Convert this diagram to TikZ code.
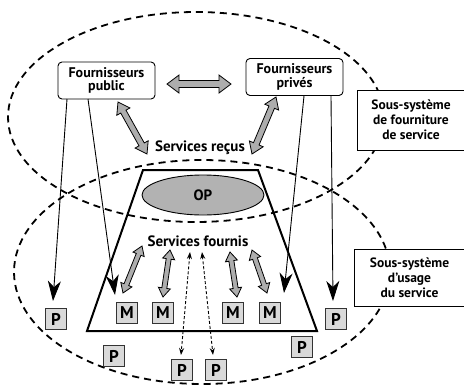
\documentclass[tikz,border=0pt]{standalone}
\usepackage{fontspec}
\setmainfont{PT Sans}
\usetikzlibrary{calc,arrows.meta,shapes.geometric}
\newcommand{\fatarrow}[5]{%
 \draw[fat] (#1) -- ($($(#1)!#5!(#2)$)!#3!90:(#2)$) -- ($($(#1)!#5!(#2)$)!#4!90:(#2)$)
 -- ($($(#2)!#5!(#1)$)!#4!-90:(#1)$) -- ($($(#2)!#5!(#1)$)!#3!-90:(#1)$) -- (#2)
 -- ($($(#2)!#5!(#1)$)!#3!90:(#1)$) -- ($($(#2)!#5!(#1)$)!#4!90:(#1)$)
 -- ($($(#1)!#5!(#2)$)!#4!-90:(#2)$) -- ($($(#1)!#5!(#2)$)!#3!-90:(#2)$) -- cycle;}
\begin{document}
\begin{tikzpicture}[x=1pt,y=-1pt,
  font=\bfseries\fontsize{14}{13.5}\selectfont,
  ell/.style={line width=1.8pt, dash pattern=on 7pt off 5pt},
  fbox/.style={draw, rounded corners=4pt, line width=0.9pt, align=center, inner sep=0pt, minimum width=97pt, minimum height=37pt, fill=white},
  sbox/.style={draw, line width=0.9pt, fill=white, align=center, inner sep=0pt, font=\bfseries\fontsize{13.5}{15}\selectfont},
  lbl/.style={inner sep=0pt, font=\bfseries\fontsize{15}{15}\selectfont},
  pm/.style={draw=black!80, line width=1.1pt, fill=black!15, minimum size=21pt, inner sep=0pt, font=\bfseries\fontsize{17}{17}\selectfont},
  thinarr/.style={line width=0.9pt, -{Stealth[length=20pt,width=13pt,inset=6pt]}},
  dasharr/.style={line width=0.9pt, dash pattern=on 3pt off 2pt, {Stealth[length=7pt,width=5pt]}-{Stealth[length=7pt,width=5pt]}},
  fat/.style={draw, line width=0.8pt, fill=black!32, line join=miter}
]
\useasboundingbox (0,0) rectangle (464,386);
% ellipses
\draw[ell] (196,117) ellipse [x radius=188pt, y radius=105pt];
\draw[ell] (202,272) ellipse [x radius=188pt, y radius=112pt];
% side boxes
\node[sbox, minimum width=107pt, minimum height=60pt] (s1) at (411,120) {Sous-système\\de fourniture\\de service};
\node[sbox, minimum width=110pt, minimum height=57pt] (s2) at (409.5,277.5) {Sous-système\\d’usage\\du service};
% trapezoid
\draw[line width=2pt, line join=miter] (143,170) -- (258,170) -- (317,331) -- (87,331) -- cycle;
\node[ellipse, draw, line width=0.9pt, fill=black!30, minimum width=122pt, minimum height=40pt, inner sep=0pt, font=\bfseries\fontsize{15}{15}\selectfont] (op) at (203,195) {OP};
% providers
\node[fbox] (pub) at (106.5,80.5) {Fournisseurs\\public};
\node[fbox] (priv) at (294.5,77) {Fournisseurs\\privés};
% labels
\node[lbl] (recus) at (200,148) {Services reçus};
\node[lbl] (fournis) at (198,241) {Services fournis};
% P and M boxes
\node[pm] (p1) at (56,319) {P};
\node[pm] (p2) at (114,356) {P};
\node[pm] (p3) at (182,370) {P};
\node[pm] (p4) at (216,370) {P};
\node[pm] (p5) at (302,347) {P};
\node[pm] (p6) at (336,319) {P};
\node[pm] (m1) at (127,313) {M};
\node[pm] (m2) at (163,313) {M};
\node[pm] (m3) at (233,313) {M};
\node[pm] (m4) at (270,313) {M};
% coordinates
\coordinate (h1) at (167,84);  \coordinate (h2) at (231,84);
\coordinate (d1a) at (118,102); \coordinate (d1b) at (147,154);
\coordinate (d2a) at (276,97);  \coordinate (d2b) at (252,154);
\coordinate (m1a) at (142,246); \coordinate (m1b) at (123,293);
\coordinate (m2a) at (170,250); \coordinate (m2b) at (163,297);
\coordinate (m3a) at (230,252); \coordinate (m3b) at (237,297);
\coordinate (m4a) at (252,250); \coordinate (m4b) at (267,293);
\coordinate (t1s) at (67,99);   \coordinate (t1e) at (53,301);
\coordinate (t2s) at (88,99);   \coordinate (t2e) at (115,295);
\coordinate (t3s) at (304,96);  \coordinate (t3e) at (284,293);
\coordinate (t4s) at (331,96);  \coordinate (t4e) at (333,301);
\coordinate (q1a) at (190,252); \coordinate (q1b) at (181,355);
\coordinate (q2a) at (202,252); \coordinate (q2b) at (213,355);
% fat arrows
\fatarrow{h1}{h2}{9pt}{3.5pt}{12pt}
\fatarrow{d1a}{d1b}{7.5pt}{3pt}{11pt}
\fatarrow{d2a}{d2b}{7.5pt}{3pt}{11pt}
\fatarrow{m1a}{m1b}{6pt}{2.5pt}{9pt}
\fatarrow{m2a}{m2b}{6pt}{2.5pt}{9pt}
\fatarrow{m3a}{m3b}{6pt}{2.5pt}{9pt}
\fatarrow{m4a}{m4b}{6pt}{2.5pt}{9pt}
% thin arrows
\draw[thinarr] (t1s) -- (t1e);
\draw[thinarr] (t2s) -- (t2e);
\draw[thinarr] (t3s) -- (t3e);
\draw[thinarr] (t4s) -- (t4e);
% dashed arrows
\draw[dasharr] (q1a) -- (q1b);
\draw[dasharr] (q2a) -- (q2b);
\end{tikzpicture}
\end{document}
